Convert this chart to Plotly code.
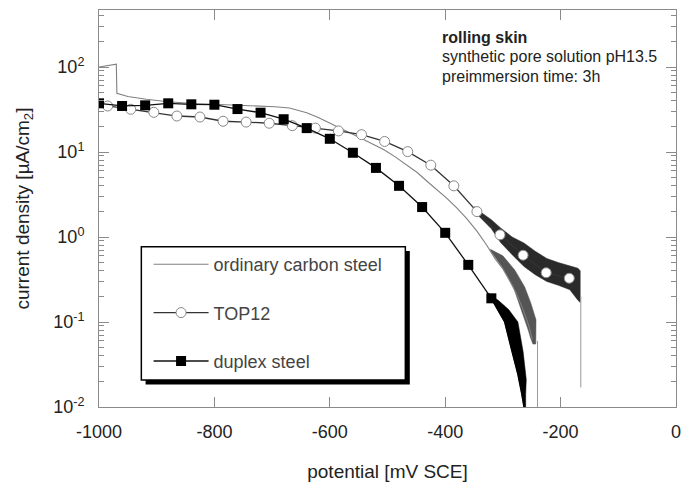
import plotly.graph_objects as go

# ---------------- data ----------------
# ordinary carbon steel (continuous curve)
carbon_x = [-1000, -985, -970, -969, -950, -918, -880, -844, -800, -758, -720, -695, -670,
            -655, -640, -620, -600, -586, -566, -546, -526, -506, -486, -466, -448, -431,
            -414, -397, -380, -363, -345, -328, -314, -300, -290, -277, -265, -255, -249]
carbon_y = [100, 104, 108, 49, 45, 41.7, 39, 37.4, 36.5, 35.7, 35, 34.1, 33,
            31.2, 29, 25.5, 22, 19.9, 17, 14.5, 12.4, 10.6, 8.7, 7.0, 5.7, 4.5,
            3.6, 2.85, 2.2, 1.66, 1.17, 0.8, 0.56, 0.42, 0.32, 0.22, 0.14, 0.09, 0.062]
# noisy end of carbon steel curve (envelope polygon)
carbon_noise_x = [-322, -300, -282, -262.5, -256, -252, -248, -243, -243, -242.6, -252, -262.4, -279.5, -300, -322]
carbon_noise_y = [0.70, 0.43, 0.26, 0.11, 0.08, 0.065, 0.055, 0.055, 0.08, 0.106, 0.17, 0.26, 0.41, 0.6, 0.72]
carbon_drop_x = [-240, -240]
carbon_drop_y = [0.06, 0.005]

# TOP12 (measured markers)
top12_x = [-985, -945, -905, -865, -825, -785, -745, -705, -665, -625, -585,
           -545, -505, -465, -425, -385, -345, -305, -265, -225, -185]
top12_y = [34.8, 31.8, 29.3, 26.5, 25.8, 23, 22.5, 21.8, 20.4, 19.1, 17.7,
           16.0, 13.3, 10.1, 7.0, 4.0, 1.99, 1.06, 0.61, 0.38, 0.327]
top12_noise_x = [-350, -345, -320, -304, -284, -263.5, -244, -224, -204, -184, -170, -166,
                 -166, -170, -184, -204, -224, -244, -263.5, -284, -304, -320, -345, -350]
top12_noise_y = [2.3, 2.1, 1.6, 1.28, 1.0, 0.85, 0.68, 0.56, 0.5, 0.46, 0.43, 0.4,
                 0.17, 0.18, 0.24, 0.27, 0.3, 0.36, 0.45, 0.62, 0.86, 1.25, 1.85, 2.1]
top12_drop_x = [-165, -165]
top12_drop_y = [0.2, 0.017]

# duplex steel (measured markers)
duplex_x = [-1000, -960, -920, -880, -840, -800, -760, -720, -680, -640, -600,
            -560, -520, -480, -440, -400, -360, -320, -280]
duplex_y = [37.4, 34.8, 35.4, 37.4, 36.4, 36, 32, 29, 24.3, 19.1, 14.3,
            9.8, 6.5, 4.0, 2.25, 1.12, 0.47, 0.19, 0.035]
duplex_tail_x = [-320, -308, -297, -285, -274, -268, -263.5, -263.5]
duplex_tail_y = [0.19, 0.135, 0.1, 0.047, 0.024, 0.015, 0.01, 0.005]
duplex_noise_x = [-325, -321, -308, -297, -285, -274, -268, -263.5, -263.5,
                  -260.5, -260.5, -259.5, -265, -274, -290, -308, -321, -325]
duplex_noise_y = [0.21, 0.19, 0.135, 0.1, 0.047, 0.024, 0.015, 0.01, 0.005,
                  0.005, 0.014, 0.021, 0.045, 0.1, 0.14, 0.18, 0.205, 0.22]

x_ticks = [-1000, -800, -600, -400, -200, 0]
y_ticks = [0.01, 0.1, 1, 10, 100]
y_ticktext = ["10<sup>-2</sup>", "10<sup>-1</sup>", "10<sup>0</sup>", "10<sup>1</sup>", "10<sup>2</sup>"]

series_names = ["ordinary carbon steel", "TOP12", "duplex steel"]
note_lines = ["<b>rolling skin</b>", "synthetic pore solution pH13.5", "preimmersion time: 3h"]

# ---------------- figure ----------------
W, H = 689, 488
L, R, T, B = 99, 8, 10, 81
pw, ph = W - L - R, H - T - B


def px_x(p):
    return (p - L) / pw


def px_y(p):
    return (H - B - p) / ph


FONT = "Liberation Sans, Arial, Helvetica, sans-serif"
fig = go.Figure()

# carbon steel
fig.add_trace(go.Scatter(x=carbon_noise_x, y=carbon_noise_y, fill="toself", mode="lines",
                         line=dict(color="#555555", width=0.5), fillcolor="#555555",
                         showlegend=False, hoverinfo="skip"))
fig.add_trace(go.Scatter(x=carbon_drop_x, y=carbon_drop_y, mode="lines",
                         line=dict(color="#999999", width=1), showlegend=False, hoverinfo="skip"))
fig.add_trace(go.Scatter(x=carbon_x, y=carbon_y, mode="lines", name=series_names[0],
                         line=dict(color="#808080", width=1.1), legendgroup="a"))

# TOP12
fig.add_trace(go.Scatter(x=top12_noise_x, y=top12_noise_y, fill="toself", mode="lines",
                         line=dict(color="#2a2a2a", width=0.5), fillcolor="#2a2a2a",
                         showlegend=False, hoverinfo="skip"))
fig.add_trace(go.Scatter(x=top12_drop_x, y=top12_drop_y, mode="lines",
                         line=dict(color="#999999", width=1), showlegend=False, hoverinfo="skip"))
fig.add_trace(go.Scatter(x=top12_x, y=top12_y, mode="lines+markers", name=series_names[1],
                         line=dict(color="#333333", width=1.3),
                         marker=dict(symbol="circle", size=10, color="white",
                                     line=dict(color="#888888", width=1)),
                         legendgroup="b"))

# duplex
fig.add_trace(go.Scatter(x=duplex_noise_x, y=duplex_noise_y, fill="toself", mode="lines",
                         line=dict(color="black", width=0.5), fillcolor="black",
                         showlegend=False, hoverinfo="skip"))
fig.add_trace(go.Scatter(x=duplex_tail_x, y=duplex_tail_y, mode="lines",
                         line=dict(color="black", width=1.3), showlegend=False, hoverinfo="skip"))
fig.add_trace(go.Scatter(x=duplex_x[:-1], y=duplex_y[:-1], mode="lines+markers", name=series_names[2],
                         line=dict(color="#111111", width=1.3),
                         marker=dict(symbol="square", size=10, color="black",
                                     line=dict(color="black", width=0)),
                         legendgroup="c"))

axis_common = dict(showgrid=False, zeroline=False, showline=True, linecolor="#8a8a8a", linewidth=1,
                   ticks="inside", ticklen=10, tickcolor="#8a8a8a", tickwidth=1, mirror="allticks",
                   tickfont=dict(family=FONT, size=18, color="#222222"))

fig.update_layout(
    width=W, height=H,
    margin=dict(l=L, r=R, t=T, b=B),
    paper_bgcolor="white", plot_bgcolor="white",
    font=dict(family=FONT, color="#222222"),
    xaxis=dict(range=[-1000, 0], tickvals=x_ticks, ticktext=[str(v) for v in x_ticks],
               ticklabelstandoff=8,
               title=dict(text="potential [mV SCE]", font=dict(family=FONT, size=19, color="#222222"),
                          standoff=24),
               **axis_common),
    yaxis=dict(type="log", range=[-2, 2.6706], tickvals=y_ticks, ticktext=y_ticktext,
               ticklabelstandoff=10,
               minor=dict(ticks="inside", ticklen=5, tickcolor="#8a8a8a", dtick="D1", showgrid=False),
               title=dict(text="current density [µA/cm<sub>2</sub>]",
                          font=dict(family=FONT, size=19, color="#222222"), standoff=18),
               **axis_common),
    legend=dict(x=px_x(149), y=px_y(246), xanchor="left", yanchor="top",
                bgcolor="rgba(0,0,0,0)", borderwidth=0,
                font=dict(family=FONT, size=18, color="#444444"),
                itemwidth=55, traceorder="grouped", tracegroupgap=22),
    showlegend=True,
)

# legend box with drop shadow
fig.add_shape(type="rect", xref="paper", yref="paper",
              x0=px_x(146), x1=px_x(412.5), y0=px_y(384.5), y1=px_y(251),
              line=dict(width=0), fillcolor="black", layer="above")
fig.add_shape(type="rect", xref="paper", yref="paper",
              x0=px_x(141.7), x1=px_x(408), y0=px_y(380), y1=px_y(246.7),
              line=dict(width=1.5, color="black"), fillcolor="white", layer="above")

# text note
note_y = [37, 56.5, 76]
for txt, yy in zip(note_lines, note_y):
    fig.add_annotation(text=txt, xref="paper", yref="paper", x=px_x(443), y=px_y(yy),
                       xanchor="left", yanchor="middle", showarrow=False,
                       font=dict(family=FONT, size=16, color="#222222"))

fig.write_html("out.html")
